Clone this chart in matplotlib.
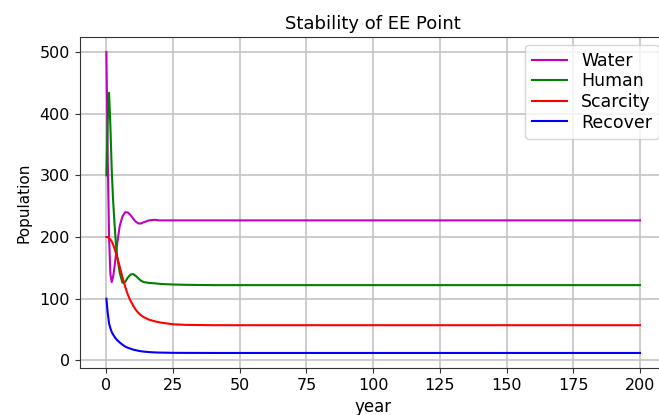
import matplotlib
matplotlib.use("Agg")
import matplotlib.pyplot as plt

# values
years = [0, 0.5, 1, 1.5, 2, 2.5, 3, 3.5, 4, 5, 6, 7, 8, 9, 10, 11, 12, 13, 14,
         16, 18, 20, 25, 30, 40, 60, 100, 150, 200]
water = [500, 330, 200, 140, 127, 135, 150, 168, 188, 218, 233, 240, 240, 236,
         230, 225, 222, 222, 224, 227, 228, 227, 227, 227, 227, 227, 227, 227, 227]
human = [300, 390, 434, 380, 310, 261, 225, 193, 170, 142, 126, 127, 134, 139,
         140, 137, 133, 129, 127, 125.5, 125, 124, 123, 122.5, 122, 122, 122, 122, 122]
scarcity = [200, 200, 198, 196, 193, 188, 182, 175, 168, 152, 135, 120, 107, 97,
            89, 82, 77, 73, 70, 66, 63.5, 61.5, 58.5, 57.5, 57, 57, 57, 57, 57]
recover = [100, 77, 60, 52, 46, 42, 38.5, 35.5, 33, 29, 25.5, 22.5, 20.5, 19,
           17.5, 16.5, 15.5, 14.8, 14.2, 13.4, 12.9, 12.6, 12.2, 12.1, 12, 12, 12, 12, 12]

fig = plt.figure(figsize=(6.59, 4.15), dpi=100)
# axes run a bit past the right edge, like the cropped original
ax = fig.add_axes([79.7 / 659, 47 / 415, 587 / 659, 331 / 415])

ax.plot(years, water, color="m", lw=1.5, label="Water")
ax.plot(years, human, color="g", lw=1.5, label="Human")
ax.plot(years, scarcity, color="r", lw=1.5, label="Scarcity")
ax.plot(years, recover, color="b", lw=1.5, label="Recover")

ax.set_xticks([0, 25, 50, 75, 100, 125, 150, 175, 200])
ax.set_yticks([0, 100, 200, 300, 400, 500])
ax.grid(True, color="#c4c4c4", lw=1.2)
ax.set_axisbelow(True)
ax.tick_params(labelsize=11.5, color="#333333")
for s in ax.spines.values():
    s.set_color("#333333")

ax.set_title("Stability of EE Point", fontsize=13)
ax.set_xlabel("year", fontsize=12)
ax.set_ylabel("Population", fontsize=11, labelpad=6)
ax.legend(loc="upper right", fontsize=12.5, labelspacing=0.15,
          borderpad=0.4, borderaxespad=0.45)

fig.savefig("out.png", dpi=100)
